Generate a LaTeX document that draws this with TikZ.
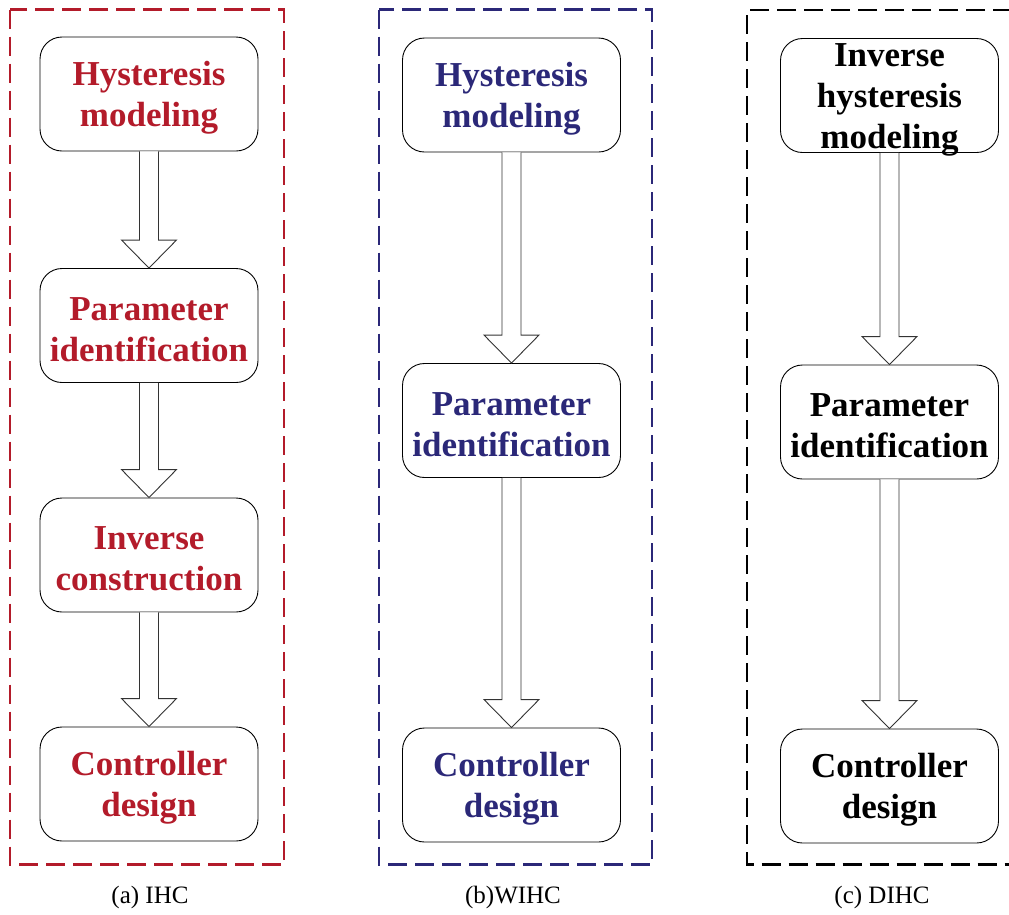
\documentclass[tikz,border=0pt]{standalone}
\usepackage{fontspec}
\setmainfont{Liberation Serif}
\usetikzlibrary{calc}
\definecolor{ihcred}{HTML}{B31B2A}
\definecolor{ihcblue}{HTML}{2B2878}
\tikzset{
  box/.style={draw=black, line width=0.9pt, rounded corners=22pt, minimum width=218pt, minimum height=114pt, inner sep=0pt},
  boxlabel/.style={inner sep=0pt, align=center, yshift=-4pt, font=\bfseries\fontsize{35}{41}\selectfont},
  panel/.style={line width=2.2pt, dash pattern=on 19pt off 8pt},
  blockarr/.style={draw=black!80, line width=0.9pt, fill=white},
  caption/.style={font=\fontsize{25}{30}\selectfont, inner sep=0pt}
}
\newcommand\flowbox[4]{\node[box, label={[boxlabel, text=#2]center:{#4}}] (#1) at (#3) {};}
\newcommand\blockarrow[2]{%
  \draw[blockarr] let \p1=(#1.south), \p2=(#2.north) in
    (\x1-9.5pt,\y1) -- (\x1-9.5pt,\y2+28pt) -- (\x1-27.5pt,\y2+28pt) -- (\x1,\y2)
    -- (\x1+27.5pt,\y2+28pt) -- (\x1+9.5pt,\y2+28pt) -- (\x1+9.5pt,\y1);}
\begin{document}
\begin{tikzpicture}[x=1pt,y=-1pt]
\useasboundingbox (0,0) rectangle (1009,914);
% panels
\draw[panel, ihcred] (10,9.5) rectangle (284,864.5);
\draw[panel, ihcblue] (379,9.5) rectangle (652,864.5);
\draw[panel, black] (1012,10) -- (747,10) -- (747,864.5) -- (1012,864.5);
% panel (a)
\flowbox{a1}{ihcred}{149,94}{Hysteresis\\modeling}
\flowbox{a2}{ihcred}{149,325.5}{Parameter\\identification}
\flowbox{a3}{ihcred}{149,555}{Inverse\\construction}
\flowbox{a4}{ihcred}{149,784}{Controller\\design}
\blockarrow{a1}{a2}
\blockarrow{a2}{a3}
\blockarrow{a3}{a4}
% panel (b)
\flowbox{b1}{ihcblue}{511.5,95}{Hysteresis\\modeling}
\flowbox{b2}{ihcblue}{511.5,420.5}{Parameter\\identification}
\flowbox{b3}{ihcblue}{511.5,785}{Controller\\design}
\blockarrow{b1}{b2}
\blockarrow{b2}{b3}
% panel (c)
\flowbox{c1}{black}{889.5,95.5}{Inverse\\hysteresis\\modeling}
\flowbox{c2}{black}{889.5,422}{Parameter\\identification}
\flowbox{c3}{black}{889.5,786}{Controller\\design}
\blockarrow{c1}{c2}
\blockarrow{c2}{c3}
% captions
\node[caption] (capa) at (150,897) {(a) IHC};
\node[caption] (capb) at (513,897) {(b)WIHC};
\node[caption] (capc) at (882,897) {(c) DIHC};
\end{tikzpicture}
\end{document}
